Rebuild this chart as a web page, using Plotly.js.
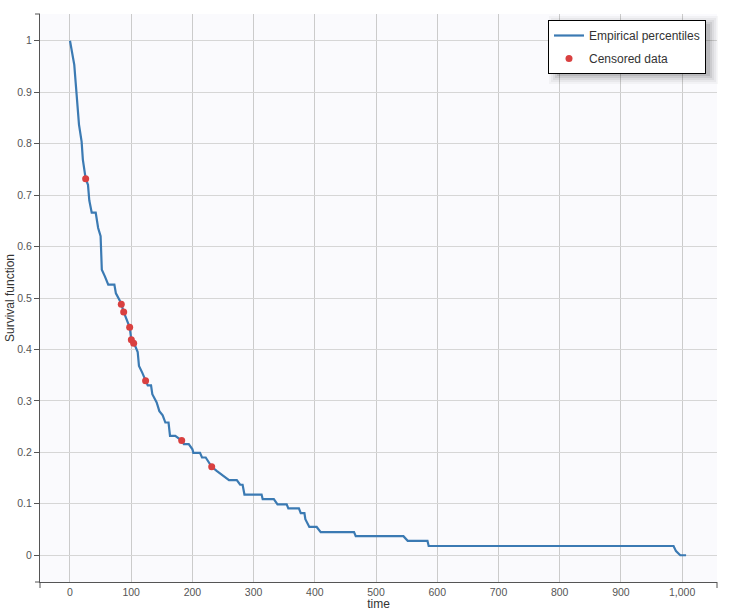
<!DOCTYPE html>
<html>
<head>
<meta charset="utf-8">
<script src="https://cdn.plot.ly/plotly-3.0.1.min.js"></script>
<style>html,body{margin:0;padding:0;background:#fff;}#chart{width:735px;height:611px;}</style>
</head>
<body>
<div id="chart"></div>
<script>
// Empirical survival curve (Kaplan-Meier style), vertices
const curveTime = [0, 7, 9.3, 12, 14.7, 19, 21, 25.6, 29.4, 31.5, 35.5, 42, 46, 50, 51.5, 52, 57, 62.5, 72.5, 75, 81.7, 83.8, 87.7, 95, 97.5, 100.2, 104, 106, 110.6, 112.7, 118, 123.5, 127, 132.4, 134.5, 141.6, 146, 151.4, 155.8, 161, 163.4, 172, 177.6, 182.5, 186, 194, 200, 201.5, 212.4, 215.7, 221.7, 227.6, 231.5, 239.6, 250, 259.8, 272.5, 278, 282, 285, 313, 314.8, 333, 339, 354, 356.7, 374, 377, 383, 384.5, 391, 403, 409.6, 464, 466.8, 544.7, 551.7, 584, 586, 986, 990, 997, 1006.5];
const curveSurv = [1, 0.953, 0.918, 0.866, 0.837, 0.804, 0.769, 0.732, 0.72, 0.69, 0.666, 0.666, 0.636, 0.62, 0.58, 0.555, 0.542, 0.526, 0.526, 0.509, 0.494, 0.488, 0.473, 0.449, 0.443, 0.419, 0.412, 0.408, 0.395, 0.368, 0.355, 0.339, 0.33, 0.33, 0.313, 0.297, 0.28, 0.272, 0.258, 0.258, 0.232, 0.232, 0.227, 0.223, 0.216, 0.216, 0.206, 0.199, 0.199, 0.19, 0.19, 0.178, 0.172, 0.164, 0.154, 0.146, 0.146, 0.137, 0.137, 0.118, 0.118, 0.109, 0.109, 0.099, 0.099, 0.091, 0.091, 0.082, 0.082, 0.07, 0.055, 0.055, 0.045, 0.045, 0.037, 0.037, 0.028, 0.028, 0.018, 0.018, 0.008, 0, 0];

// Censored observations
const censTime = [25.6, 83.8, 87.7, 97.5, 100.2, 104, 123.5, 182.5, 231.5];
const censSurv = [0.732, 0.488, 0.473, 0.443, 0.419, 0.412, 0.339, 0.223, 0.172];

const seriesNames = ['Empirical percentiles', 'Censored data'];
const xTickVals = [0, 100, 200, 300, 400, 500, 600, 700, 800, 900, 1000];
const yTickVals = [0, 0.1, 0.2, 0.3, 0.4, 0.5, 0.6, 0.7, 0.8, 0.9, 1];

// layout geometry (pixels)
const W = 735, H = 611;
const M = {l: 40, r: 18, t: 14, b: 29};
const PW = W - M.l - M.r, PH = H - M.t - M.b;
const px = v => v / PW, py = v => v / PH;

const traces = [
  {
    x: curveTime, y: curveSurv, type: 'scatter', mode: 'lines',
    name: seriesNames[0], legendgroup: 'a',
    line: {color: '#3b7ab3', width: 2.2}
  },
  {
    x: censTime, y: censSurv, type: 'scatter', mode: 'markers',
    name: seriesNames[1], legendgroup: 'b',
    marker: {color: '#d94040', size: 7}
  }
];

// legend box in pixels
const LG = {x0: 557, x1: 706, y0: 20, y1: 69};
const toPX = x => (x - M.l) / PW;
const toPY = y => 1 - (y - M.t) / PH;

const shapes = [];
// soft shadow behind legend
[[10, 0.03], [8, 0.04], [6, 0.05], [4, 0.07], [2, 0.09]].forEach(([s, a]) => {
  shapes.push({type: 'rect', xref: 'paper', yref: 'paper', layer: 'above',
    x0: toPX(LG.x0 - s + 2), x1: toPX(LG.x1 + s + 2), y0: toPY(LG.y1 + s + 5), y1: toPY(LG.y0 - s + 6),
    line: {width: 0}, fillcolor: 'rgba(0,0,0,' + a + ')'});
});
// axis end caps
const capColor = '#555';
shapes.push({type: 'line', xref: 'paper', yref: 'paper', x0: -px(5), x1: 0, y0: 1, y1: 1, line: {color: capColor, width: 1}});
shapes.push({type: 'line', xref: 'paper', yref: 'paper', x0: -px(5), x1: 0, y0: 0, y1: 0, line: {color: capColor, width: 1}});
shapes.push({type: 'line', xref: 'paper', yref: 'paper', x0: 0, x1: 0, y0: 0, y1: -py(6), line: {color: capColor, width: 1}});
shapes.push({type: 'line', xref: 'paper', yref: 'paper', x0: 1, x1: 1, y0: 0, y1: -py(6), line: {color: capColor, width: 1}});

const FAM = 'Liberation Sans, Arial, sans-serif';
const tickFont = {family: FAM, size: 10.5, color: '#555'};

const layout = {
  width: W, height: H,
  margin: M,
  paper_bgcolor: '#ffffff',
  plot_bgcolor: '#fafafd',
  showlegend: true,
  legend: {
    x: toPX(LG.x1), xanchor: 'right', y: toPY(LG.y0), yanchor: 'top',
    bgcolor: '#ffffff', bordercolor: '#000000', borderwidth: 1,
    font: {family: FAM, size: 12, color: '#333'},
    traceorder: 'grouped', tracegroupgap: 4
  },
  xaxis: {
    range: [-49, 1057], tickvals: xTickVals, tickformat: ',d',
    showgrid: true, gridcolor: '#cbcbcb', gridwidth: 1, zeroline: false,
    showline: true, linecolor: '#555', linewidth: 1, ticks: '',
    tickfont: tickFont, automargin: false,
    title: {text: 'time', font: {family: FAM, size: 12, color: '#333'}, standoff: 0}
  },
  yaxis: {
    range: [-0.052, 1.052], tickvals: yTickVals,
    showgrid: true, gridcolor: '#d6d6d6', gridwidth: 1, zeroline: false,
    showline: true, linecolor: '#555', linewidth: 1, ticks: 'outside', ticklen: 5, tickcolor: '#555',
    tickfont: tickFont, automargin: false,
    title: {text: 'Survival function', font: {family: FAM, size: 12, color: '#333'}, standoff: 0}
  },
  shapes: shapes
};

Plotly.newPlot('chart', traces, layout, {staticPlot: true, displayModeBar: false});
</script>
</body>
</html>
